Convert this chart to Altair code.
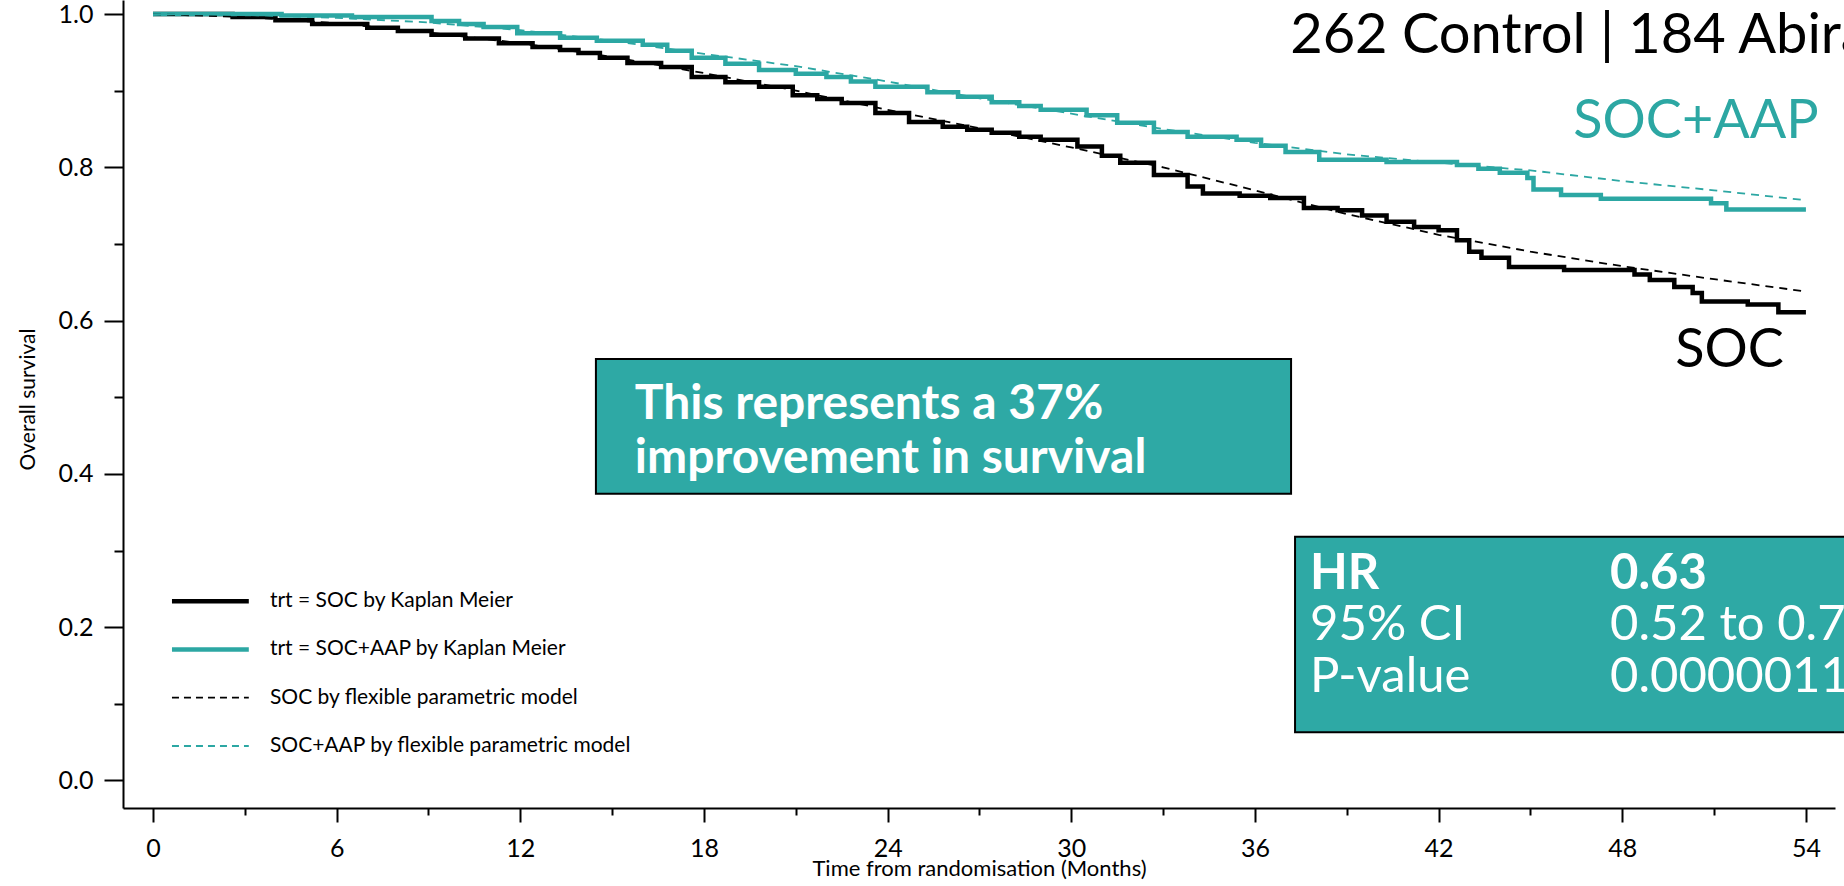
import altair as alt
import pandas as pd

# ---------------- data ----------------
soc_t = [0, 2.6, 4.0, 5.2, 7.0, 8.0, 9.1, 10.2, 11.3, 12.4, 13.3, 13.9, 14.6, 15.5, 16.6,
         17.6, 18.7, 19.8, 20.9, 21.7, 22.5, 23.6, 24.7, 25.8, 26.6, 27.4, 28.3, 29.0,
         30.2, 31.0, 31.6, 32.7, 33.8, 34.3, 35.5, 36.5, 37.6, 38.7, 39.5, 40.3, 41.2,
         42.0, 42.6, 43.0, 43.4, 44.3, 46.1, 48.4, 48.9, 49.7, 50.3, 50.6, 52.1, 53.1, 54.0]
soc_s = [1.0, 0.996, 0.992, 0.987, 0.982, 0.978, 0.973, 0.968, 0.962, 0.957, 0.953, 0.949,
         0.943, 0.936, 0.931, 0.918, 0.911, 0.905, 0.894, 0.889, 0.884, 0.871, 0.859, 0.853,
         0.849, 0.845, 0.840, 0.836, 0.827, 0.815, 0.806, 0.790, 0.775, 0.766, 0.763, 0.760,
         0.747, 0.744, 0.737, 0.729, 0.722, 0.718, 0.705, 0.690, 0.682, 0.670, 0.666, 0.660,
         0.653, 0.644, 0.636, 0.625, 0.621, 0.611, 0.611]

aap_t = [0, 4.2, 6.5, 9.1, 10.0, 10.8, 11.9, 13.3, 14.5, 16.0, 16.8, 17.6, 18.7, 19.8, 21.0,
         22.0, 22.8, 23.6, 25.3, 26.3, 27.4, 28.3, 29.0, 30.5, 31.5, 32.7, 33.8, 35.4, 36.2,
         37.0, 38.1, 40.3, 42.6, 43.3, 44.0, 44.9, 45.1, 46.0, 47.3, 50.9, 51.4, 54.0]
aap_s = [1.0, 0.998, 0.996, 0.991, 0.987, 0.983, 0.975, 0.969, 0.965, 0.960, 0.952, 0.943,
         0.935, 0.927, 0.922, 0.918, 0.912, 0.905, 0.898, 0.892, 0.885, 0.880, 0.875, 0.868,
         0.858, 0.846, 0.840, 0.836, 0.828, 0.820, 0.810, 0.807, 0.803, 0.798, 0.793, 0.786,
         0.771, 0.764, 0.759, 0.753, 0.745, 0.745]

model_t = [0, 3, 6, 9, 12, 15, 18, 21, 24, 27, 30, 33, 36, 39, 42, 45, 48, 51, 54]
soc_model = [1.0, 0.996, 0.988, 0.976, 0.962, 0.944, 0.923, 0.900, 0.875, 0.851, 0.826,
             0.800, 0.770, 0.739, 0.712, 0.690, 0.671, 0.654, 0.638]
aap_model = [1.0, 0.999, 0.995, 0.989, 0.979, 0.965, 0.948, 0.932, 0.912, 0.890, 0.870,
             0.850, 0.832, 0.817, 0.806, 0.796, 0.782, 0.770, 0.757]

x_ticks = list(range(0, 55, 3))
y_ticks = [round(i * 0.1, 1) for i in range(11)]

legend_labels = ["trt = SOC by Kaplan Meier", "trt = SOC+AAP by Kaplan Meier",
                 "SOC by flexible parametric model", "SOC+AAP by flexible parametric model"]
legend_y = [0.2340, 0.1710, 0.1080, 0.0450]

header_text = ["262 Control | 184 Abiraterone"]
box1_lines = ["This represents a 37%", "improvement in survival"]
box2_left = ["HR", "95% CI", "P-value"]
box2_right = ["0.63", "0.52 to 0.75", "0.0000011"]
box2_bold = [True, False, False]

TEAL = "#2ca7a3"
BOXTEAL = "#2ea9a5"
FONT = "Lato"

# ---------------- scales / axes ----------------
xs = alt.Scale(domain=[-0.98, 54.95], nice=False, zero=False)
ys = alt.Scale(domain=[-0.0359, 1.0183], nice=False, zero=False)

xaxis = alt.Axis(
    values=x_ticks,
    labelExpr="datum.value % 6 === 0 ? datum.label : ''",
    tickSize={"condition": {"test": "datum.value % 6 === 0", "value": 14}, "value": 7},
    labelPadding=14, labelOverlap=False, labelFlush=False,
    title="Time from randomisation (Months)",
    titleY=60, titleBaseline="middle",
)
yaxis = alt.Axis(
    values=y_ticks,
    labelExpr="round(datum.value * 10) % 2 === 0 ? format(datum.value, '.1f') : ''",
    tickSize={"condition": {"test": "round(datum.value * 10) % 2 === 0", "value": 19}, "value": 9},
    labelPadding=11, labelOverlap=False, labelFlush=False,
    title="Overall survival", titleFontSize=21,
    titleX=-95, titleY=399, titleBaseline="middle",
)


def X(field):
    return alt.X(field, type="quantitative", scale=xs, axis=xaxis)


def Y(field):
    return alt.Y(field, type="quantitative", scale=ys, axis=yaxis)


# ---------------- tables ----------------
km = pd.concat([
    pd.DataFrame({"t": soc_t, "s": soc_s, "series": "SOC"}),
    pd.DataFrame({"t": aap_t, "s": aap_s, "series": "SOC+AAP"}),
])
model = pd.concat([
    pd.DataFrame({"t": model_t, "s": soc_model, "series": "SOC"}),
    pd.DataFrame({"t": model_t, "s": aap_model, "series": "SOC+AAP"}),
])
color_scale = alt.Scale(domain=["SOC", "SOC+AAP"], range=["#000000", TEAL])

leg = pd.DataFrame({
    "x1": [0.62] * 4, "x2": [3.13] * 4, "tx": [3.82] * 4,
    "s": legend_y, "label": legend_labels,
    "color": ["#000000", TEAL, "#000000", TEAL],
    "solid": [True, True, False, False],
})

box_df = pd.DataFrame({
    "x1": [14.47, 37.31], "x2": [37.18, 56.5],
    "y1": [0.550, 0.318], "y2": [0.374, 0.063],
})

box1_df = pd.DataFrame({"t": [15.74, 15.74], "s": [0.4716, 0.4010], "label": box1_lines})
box2_df = pd.DataFrame({
    "t": [37.80] * 3, "t2": [47.6] * 3,
    "s": [0.2500, 0.1830, 0.1150],
    "left": box2_left, "right": box2_right, "bold": box2_bold,
})

model_lines = alt.Chart(model).mark_line(strokeWidth=1.8, strokeDash=[8, 6]).encode(
    x=X("t"), y=Y("s"),
    color=alt.Color("series:N", scale=color_scale, legend=None),
    detail="series:N",
)
km_lines = alt.Chart(km).mark_line(strokeWidth=4.5, interpolate="step-after").encode(
    x=X("t"), y=Y("s"),
    color=alt.Color("series:N", scale=color_scale, legend=None),
    detail="series:N",
)

leg_solid = alt.Chart(leg).transform_filter("datum.solid").mark_rule(strokeWidth=4.5).encode(
    x=X("x1"), x2="x2", y=Y("s"), color=alt.Color("color:N", scale=None))
leg_dash = alt.Chart(leg).transform_filter("!datum.solid").mark_rule(
    strokeWidth=1.8, strokeDash=[7, 5]).encode(
    x=X("x1"), x2="x2", y=Y("s"), color=alt.Color("color:N", scale=None))
leg_text = alt.Chart(leg).mark_text(
    align="left", baseline="middle", font=FONT, fontSize=21, color="black").encode(
    x=X("tx"), y=Y("s"), text="label:N")

boxes = alt.Chart(box_df).mark_rect(fill=BOXTEAL, stroke="black", strokeWidth=2).encode(
    x=X("x1"), x2="x2", y=Y("y1"), y2="y2")

box1_text = alt.Chart(box1_df).mark_text(
    align="left", baseline="alphabetic", font=FONT, fontSize=48, fontWeight="bold",
    color="white").encode(x=X("t"), y=Y("s"), text="label:N")

box2_l_bold = alt.Chart(box2_df).transform_filter("datum.bold").mark_text(
    align="left", baseline="alphabetic", font=FONT, fontSize=49, fontWeight="bold",
    color="white").encode(x=X("t"), y=Y("s"), text="left:N")
box2_l = alt.Chart(box2_df).transform_filter("!datum.bold").mark_text(
    align="left", baseline="alphabetic", font=FONT, fontSize=49,
    color="white").encode(x=X("t"), y=Y("s"), text="left:N")
box2_r_bold = alt.Chart(box2_df).transform_filter("datum.bold").mark_text(
    align="left", baseline="alphabetic", font=FONT, fontSize=49, fontWeight="bold",
    color="white").encode(x=X("t2"), y=Y("s"), text="right:N")
box2_r = alt.Chart(box2_df).transform_filter("!datum.bold").mark_text(
    align="left", baseline="alphabetic", font=FONT, fontSize=49,
    color="white").encode(x=X("t2"), y=Y("s"), text="right:N")

header = alt.Chart(pd.DataFrame({"t": [37.15], "s": [0.949], "label": header_text})).mark_text(
    align="left", baseline="alphabetic", font=FONT, fontSize=56, color="black").encode(
    x=X("t"), y=Y("s"), text="label:N")

curve_labels = alt.Chart(pd.DataFrame({
    "t": [54.42, 53.28], "s": [0.838, 0.5394], "label": ["SOC+AAP", "SOC"],
    "series": ["SOC+AAP", "SOC"]})).mark_text(
    align="right", baseline="alphabetic", font=FONT, fontSize=54).encode(
    x=X("t"), y=Y("s"), text="label:N",
    color=alt.Color("series:N", scale=color_scale, legend=None))

chart = alt.layer(
    km_lines, model_lines, leg_solid, leg_dash, leg_text, boxes, box1_text,
    box2_l_bold, box2_l, box2_r_bold, box2_r, header, curve_labels,
).properties(
    width=1712, height=808,
    autosize=alt.AutoSizeParams(type="none"),
    padding={"left": 123, "top": 0, "right": 9, "bottom": 78},
    background="white",
).configure_view(stroke=None).configure_axis(
    grid=False, domainColor="black", domainWidth=2, tickColor="black", tickWidth=2,
    labelFont=FONT, labelFontSize=25, labelColor="black",
    titleFont=FONT, titleFontSize=22, titleColor="black", titleFontWeight="normal",
)

chart.save("out.html", embed_options={"renderer": "svg", "actions": False})
